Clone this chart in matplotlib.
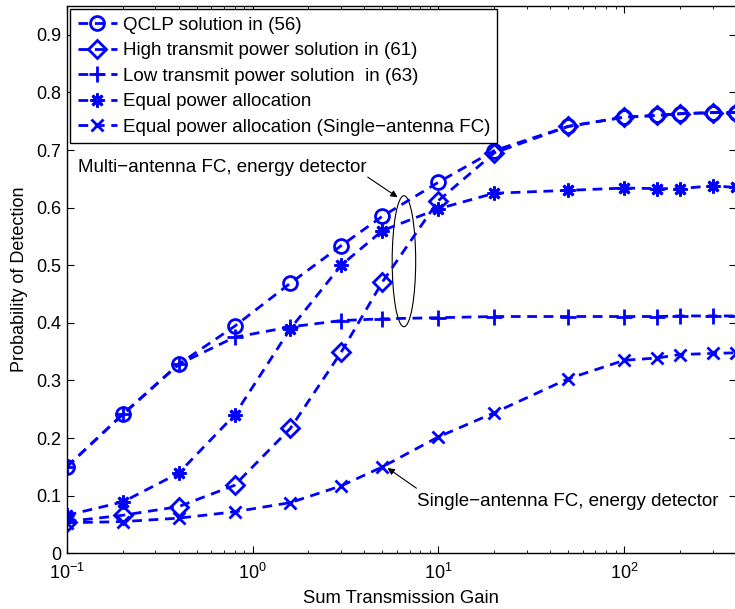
import numpy as np
import matplotlib
matplotlib.use("Agg")
import matplotlib.pyplot as plt
from matplotlib.patches import Ellipse
import matplotlib.transforms as mtransforms

plt.rcParams['font.family'] = ['Liberation Sans', 'DejaVu Sans']
plt.rcParams['mathtext.fontset'] = 'custom'
plt.rcParams['mathtext.rm'] = 'Liberation Sans'
plt.rcParams['mathtext.it'] = 'Liberation Sans:italic'
plt.rcParams['mathtext.bf'] = 'Liberation Sans:bold'

# ---------------- data ----------------
gain = [0.1, 0.2, 0.4, 0.8, 1.6, 3, 5, 10, 20, 50, 100, 150, 200, 300, 400]
qclp = [0.150, 0.241, 0.328, 0.394, 0.469, 0.534, 0.585, 0.644, 0.699, 0.741,
        0.757, 0.760, 0.763, 0.765, 0.765]
high_power = [0.055, 0.066, 0.081, 0.118, 0.217, 0.349, 0.471, 0.612, 0.695, 0.741,
              0.757, 0.760, 0.763, 0.765, 0.765]
low_power = [0.150, 0.241, 0.328, 0.375, 0.393, 0.404, 0.407, 0.409, 0.411, 0.411,
             0.411, 0.411, 0.412, 0.412, 0.412]
equal_power = [0.066, 0.089, 0.139, 0.240, 0.390, 0.500, 0.560, 0.598, 0.625, 0.630,
               0.634, 0.633, 0.633, 0.638, 0.635]
equal_single = [0.053, 0.055, 0.061, 0.072, 0.088, 0.117, 0.150, 0.202, 0.244, 0.303,
                0.335, 0.339, 0.345, 0.347, 0.348]

labels = ["QCLP solution in (56)",
          "High transmit power solution in (61)",
          "Low transmit power solution  in (63)",
          "Equal power allocation",
          "Equal power allocation (Single\u2212antenna FC)"]
yticks = [0, 0.1, 0.2, 0.3, 0.4, 0.5, 0.6, 0.7, 0.8, 0.9]
ytick_labels = ["0", "0.1", "0.2", "0.3", "0.4", "0.5", "0.6", "0.7", "0.8", "0.9"]
xlabel = "Sum Transmission Gain"
ylabel = "Probability of Detection"
multi_text = "Multi\u2212antenna FC, energy detector"
single_text = "Single\u2212antenna FC, energy detector"

# ---------------- figure ----------------
fig = plt.figure(figsize=(7.35, 6.09), dpi=100)
ax = fig.add_axes([66.7 / 735, (609 - 553.3) / 609, (736 - 66.7) / 735, (553.3 - 6) / 609])

blue = '#0000ff'
ls = (0, (3.5, 2.4))
common = dict(color=blue, lw=2.0, linestyle=ls, markerfacecolor='none',
              markeredgecolor=blue, markeredgewidth=2.0)

series = [qclp, high_power, low_power, equal_power, equal_single]
markers = ['o', 'D', '+', (8, 2, 0), 'x']
msizes = [10, 9, 12, 10, 8]
for y, m, ms, lab in zip(series, markers, msizes, labels):
    ax.plot(gain, y, marker=m, markersize=ms, label=lab, **common)

ax.set_xscale('log')
ax.set_xlim(0.1, 400)
ax.set_ylim(0, 0.95)
ax.set_yticks(yticks)
ax.set_yticklabels(ytick_labels)
ax.tick_params(axis='both', which='both', direction='in', top=True, right=True,
               labelsize=13, color='k')
ax.tick_params(axis='both', which='major', length=5, width=0.8)
ax.tick_params(axis='y', which='major', pad=4)
ax.tick_params(axis='x', which='major', pad=7)
ax.tick_params(axis='both', which='minor', length=2.5, width=0.6)
for s in ax.spines.values():
    s.set_linewidth(1.0)

ax.set_xlabel(xlabel, fontsize=13.3, labelpad=5)
ax.set_ylabel(ylabel, fontsize=13, labelpad=6)

leg = ax.legend(loc='upper left', bbox_to_anchor=(0.005, 0.9945), borderaxespad=0,
                prop={'size': 13.5}, frameon=True, fancybox=False, framealpha=1,
                edgecolor='k', handlelength=2.1, handletextpad=0.3,
                labelspacing=0.45, borderpad=0.4)
leg.get_frame().set_linewidth(1.0)

# annotations
ax.text(0.115, 0.661, multi_text, fontsize=13.5, ha='left', va='baseline')
ax.annotate('', xy=(6.04, 0.618), xytext=(4.17, 0.653),
            arrowprops=dict(arrowstyle='-|>', lw=0.8, color='k', mutation_scale=10,
                            shrinkA=0, shrinkB=0))
trans = fig.dpi_scale_trans + mtransforms.ScaledTranslation(6.53, 0.507, ax.transData)
ax.add_patch(Ellipse((0, 0), width=0.235, height=1.31, transform=trans,
                     fill=False, edgecolor='k', lw=0.8))

ax.text(7.71, 0.0825, single_text, fontsize=13.5, ha='left', va='baseline')
ax.annotate('', xy=(5.33, 0.148), xytext=(7.62, 0.113),
            arrowprops=dict(arrowstyle='-|>', lw=0.8, color='k', mutation_scale=10,
                            shrinkA=0, shrinkB=0))

fig.savefig('out.png', dpi=100)
